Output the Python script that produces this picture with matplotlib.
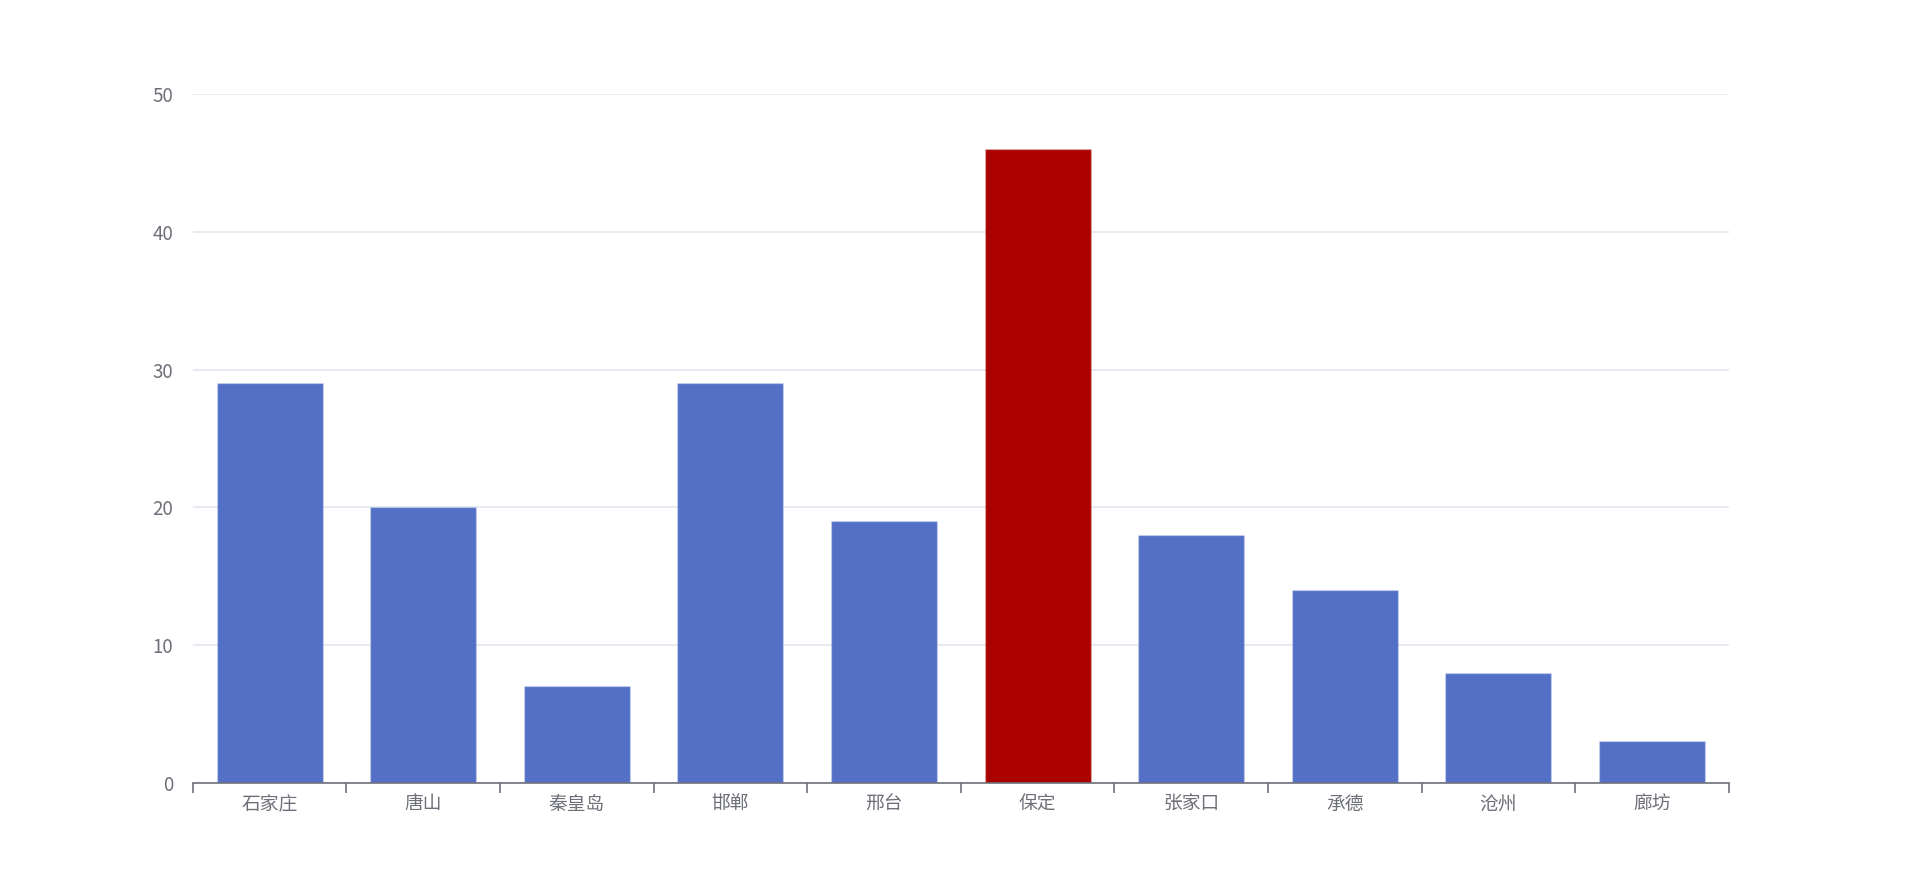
import matplotlib
matplotlib.use('Agg')
import matplotlib.pyplot as plt

plt.rcParams['font.family'] = ['Noto Sans CJK SC', 'DejaVu Sans']

cities = ['石家庄', '唐山', '秦皇岛', '邯郸', '邢台', '保定', '张家口', '承德', '沧州', '廊坊']
values = [29, 20, 7, 29, 19, 46, 18, 14, 8, 3]
highlight = '保定'

blue = '#5470c6'
red = '#aa0000'
grey = '#6e7079'

fig = plt.figure(figsize=(19.2, 8.92), dpi=100)
ax = fig.add_axes([0.1004, 0.1225, 0.8, 0.7721])

colors = [red if c == highlight else blue for c in cities]
x = list(range(len(cities)))
ax.bar(x, values, width=0.69, color=colors, edgecolor=[('#ffffff', 0.25)] * len(x), linewidth=1, zorder=3)

ax.set_xlim(-0.5, len(cities) - 0.5)
ax.set_ylim(0, 50)
ax.set_yticks([0, 10, 20, 30, 40, 50])
ax.yaxis.grid(True, color='#e0e6f1', linewidth=1.2, zorder=0)
ax.tick_params(axis='y', length=0, pad=14, labelsize=13.5, labelcolor=grey)

ax.set_xticks(x)
ax.set_xticklabels(cities)
ax.set_xticks([i - 0.5 for i in range(len(cities) + 1)], minor=True)
ax.tick_params(axis='x', which='major', length=0, pad=8, labelsize=13.5, labelcolor=grey)
ax.tick_params(axis='x', which='minor', length=7, width=1.2, color=grey)

for s in ['top', 'right', 'left']:
    ax.spines[s].set_visible(False)
ax.spines['bottom'].set_color(grey)
ax.spines['bottom'].set_linewidth(1.2)
ax.spines['bottom'].set_zorder(4)

fig.savefig('out.png', dpi=100)
